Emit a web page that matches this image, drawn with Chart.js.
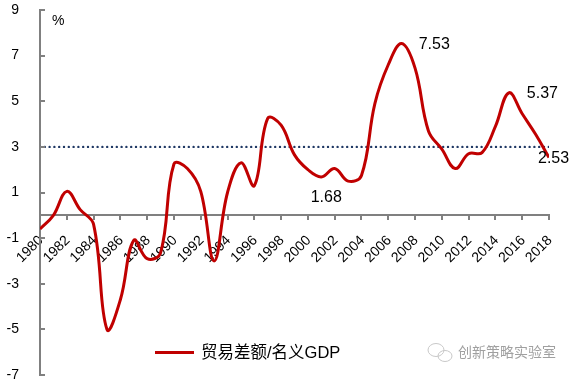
<!DOCTYPE html>
<html>
<head>
<meta charset="utf-8">
<script src="https://cdn.jsdelivr.net/npm/chart.js@4.4.1/dist/chart.umd.min.js"></script>
<style>
  html, body { margin: 0; padding: 0; background: #ffffff; }
  #wrap { position: relative; width: 575px; height: 383px; }
  canvas { display: block; }
</style>
</head>
<body>
<div id="wrap"><canvas id="c" width="575" height="383"></canvas></div>
<script>
// ---- data ----
const years = [1980,1981,1982,1983,1984,1985,1986,1987,1988,1989,
               1990,1991,1992,1993,1994,1995,1996,1997,1998,1999,
               2000,2001,2002,2003,2004,2005,2006,2007,2008,2009,
               2010,2011,2012,2013,2014,2015,2016,2017,2018];
const tradeToGdp = [-0.6, 0.0, 1.05, 0.25, -0.4, -5.0, -3.7, -1.1, -1.9, -1.65,
                    2.25, 2.05, 1.05, -2.0, 1.0, 2.3, 1.3, 4.25, 3.95, 2.65,
                    2.0, 1.68, 2.05, 1.5, 1.75, 4.9, 6.6, 7.53, 6.45, 3.7,
                    2.9, 2.05, 2.7, 2.75, 3.9, 5.37, 4.45, 3.55, 2.53];
const refYears = [1980, 2018];
const refValue = 3;
const labeledYears = [2001, 2007, 2015, 2018];
const seriesName = '贸易差额/名义GDP';
const unitLabel = '%';
const watermark = '创新策略实验室';
const yMin = -7, yMax = 9, yStep = 2;
const xStep = 2;

// ---- styles ----
const RED = '#C00000';
const NAVY = '#1F3864';
const AXIS = '#808080';
const FONT = '"Liberation Sans", Arial, sans-serif';
const MIXED = '"Liberation Sans", "Noto Sans CJK SC", sans-serif';
const CJK = '"Noto Sans CJK SC", "Liberation Sans", sans-serif';
const labelOffsets = { 2001: [5, 21, 'center'], 2007: [17, 1, 'left'], 2015: [18, 1, 'left'], 2018: [-11, 1, 'left'] };

const extras = {
  id: 'extras',
  afterDraw(chart) {
    const ctx = chart.ctx;
    const xs = chart.scales.x, ys = chart.scales.y;
    const area = chart.chartArea;
    ctx.save();
    // inward y tick marks
    ctx.strokeStyle = AXIS; ctx.lineWidth = 2;
    for (let v = yMin; v <= yMax; v += yStep) {
      const py = Math.round(ys.getPixelForValue(v));
      ctx.beginPath(); ctx.moveTo(area.left, py); ctx.lineTo(area.left + 5, py); ctx.stroke();
    }
    // data labels
    ctx.fillStyle = '#000';
    ctx.font = '16px ' + FONT;
    ctx.textBaseline = 'middle';
    labeledYears.forEach(yr => {
      const i = years.indexOf(yr);
      const v = tradeToGdp[i];
      const px = xs.getPixelForValue(yr), py = ys.getPixelForValue(v);
      const o = labelOffsets[yr];
      ctx.textAlign = o[2];
      ctx.fillText(v.toFixed(2), px + o[0], py + o[1]);
    });
    // unit
    ctx.textAlign = 'left';
    ctx.font = '14px ' + FONT;
    ctx.fillText(unitLabel, area.left + 12, 21);
    // legend
    ctx.strokeStyle = RED; ctx.lineWidth = 3;
    ctx.beginPath(); ctx.moveTo(155, 352.5); ctx.lineTo(194, 352.5); ctx.stroke();
    ctx.font = '16.5px ' + MIXED;
    ctx.fillStyle = '#000';
    ctx.fillText(seriesName, 201, 353);
    // watermark
    ctx.strokeStyle = '#c8c8c8'; ctx.lineWidth = 1;
    ctx.beginPath(); ctx.ellipse(436, 350, 8, 6.5, 0, 0, Math.PI * 2); ctx.stroke();
    ctx.beginPath(); ctx.ellipse(445, 356, 7, 5.5, 0, 0, Math.PI * 2); ctx.stroke();
    ctx.font = '14px ' + CJK;
    ctx.fillStyle = '#a0a0a0';
    ctx.fillText(watermark, 458, 352);
    ctx.restore();
  }
};

new Chart(document.getElementById('c'), {
  type: 'line',
  data: {
    datasets: [
      {
        label: seriesName,
        data: years.map((y, i) => ({ x: y, y: tradeToGdp[i] })),
        borderColor: RED,
        borderWidth: 3,
        pointRadius: 0,
        tension: 0.4,
        fill: false,
        order: 1
      },
      {
        label: 'ref',
        data: refYears.map(y => ({ x: y, y: refValue })),
        borderColor: NAVY,
        borderWidth: 2.4,
        borderDash: [0, 4.8],
        borderCapStyle: 'round',
        pointRadius: 0,
        fill: false,
        order: 2
      }
    ]
  },
  options: {
    responsive: false,
    devicePixelRatio: 1,
    animation: false,
    layout: { padding: { left: 0, right: 26, top: 10, bottom: 8 } },
    plugins: { legend: { display: false }, tooltip: { enabled: false } },
    scales: {
      x: {
        type: 'linear',
        position: { y: 0 },
        min: 1980, max: 2018,
        grid: { drawOnChartArea: false, drawTicks: true, tickLength: 4, color: AXIS, lineWidth: 2 },
        border: { display: true, color: AXIS, width: 2 },
        ticks: {
          stepSize: xStep,
          autoSkip: false,
          minRotation: 45, maxRotation: 45,
          padding: 13,
          labelOffset: 1,
          color: '#000',
          font: { family: FONT, size: 14 },
          callback: v => String(v)
        },
        afterFit(s) { s.height = 0; s.paddingLeft = 0; s.paddingRight = 0; }
      },
      y: {
        type: 'linear',
        min: yMin, max: yMax,
        grid: { display: false, drawTicks: false },
        border: { display: true, color: AXIS, width: 2 },
        ticks: {
          stepSize: yStep,
          padding: 21,
          color: '#000',
          font: { family: FONT, size: 14 }
        },
        afterFit(s) { s.width = 40; s.paddingTop = 0; s.paddingBottom = 0; }
      }
    }
  },
  plugins: [extras]
});
</script>
</body>
</html>
